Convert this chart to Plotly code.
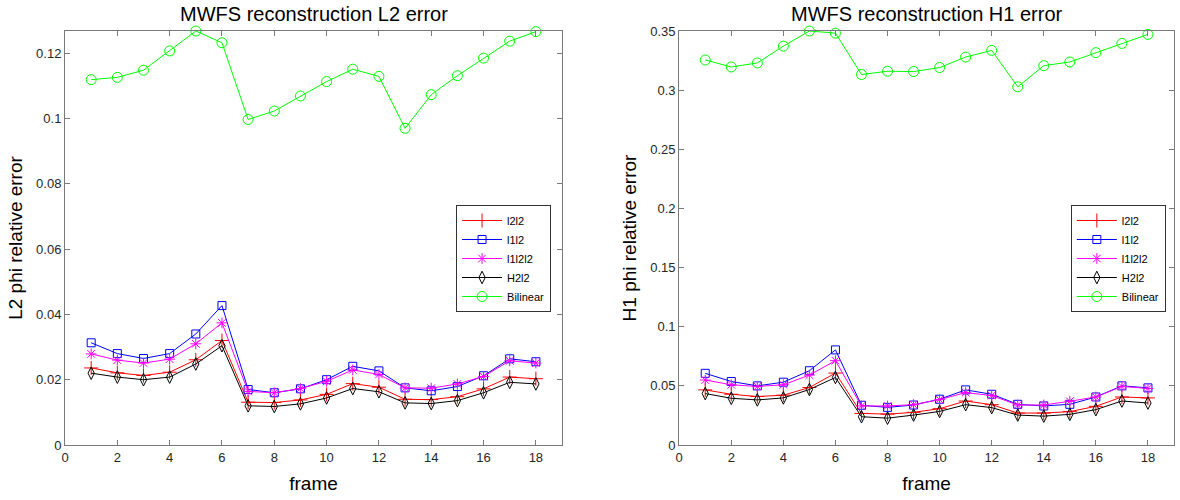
import plotly.graph_objects as go

frames = list(range(1, 19))

# Left panel: L2 relative error
l2_l2l2 = [0.0236, 0.0221, 0.0213, 0.0223, 0.0261, 0.0320, 0.0131, 0.0130, 0.0138,
           0.0155, 0.0188, 0.0177, 0.0140, 0.0139, 0.0148, 0.0172, 0.0208, 0.0203]
l2_l1l2 = [0.0313, 0.0280, 0.0265, 0.0280, 0.0340, 0.0427, 0.0170, 0.0160, 0.0172,
           0.0200, 0.0241, 0.0227, 0.0175, 0.0166, 0.0179, 0.0212, 0.0264, 0.0255]
l2_l1l2l2 = [0.0279, 0.0260, 0.0251, 0.0263, 0.0310, 0.0374, 0.0164, 0.0160, 0.0173,
             0.0195, 0.0230, 0.0216, 0.0175, 0.0174, 0.0187, 0.0210, 0.0258, 0.0251]
l2_h2l2 = [0.0220, 0.0208, 0.0200, 0.0208, 0.0248, 0.0304, 0.0120, 0.0118, 0.0126,
           0.0144, 0.0173, 0.0163, 0.0129, 0.0127, 0.0136, 0.0160, 0.0192, 0.0187]
l2_bilinear = [0.1119, 0.1126, 0.1148, 0.1207, 0.1268, 0.1232, 0.0997, 0.1023, 0.1069,
               0.1113, 0.1151, 0.1129, 0.0970, 0.1073, 0.1131, 0.1185, 0.1237, 0.1266]

# Right panel: H1 relative error
h1_l2l2 = [0.0466, 0.0429, 0.0410, 0.0421, 0.0486, 0.0608, 0.0267, 0.0261, 0.0276,
           0.0307, 0.0372, 0.0341, 0.0270, 0.0270, 0.0282, 0.0327, 0.0406, 0.0398]
h1_l1l2 = [0.0606, 0.0537, 0.0500, 0.0531, 0.0628, 0.0804, 0.0336, 0.0318, 0.0338,
           0.0387, 0.0466, 0.0429, 0.0344, 0.0330, 0.0344, 0.0406, 0.0500, 0.0483]
h1_l1l2l2 = [0.0549, 0.0509, 0.0495, 0.0509, 0.0591, 0.0713, 0.0330, 0.0330, 0.0341,
             0.0384, 0.0443, 0.0418, 0.0338, 0.0338, 0.0370, 0.0406, 0.0495, 0.0478]
h1_h2l2 = [0.0435, 0.0395, 0.0381, 0.0398, 0.0469, 0.0571, 0.0239, 0.0227, 0.0253,
           0.0284, 0.0341, 0.0316, 0.0253, 0.0244, 0.0259, 0.0299, 0.0372, 0.0355]
h1_bilinear = [0.3255, 0.3196, 0.3230, 0.3372, 0.3500, 0.3482, 0.3132, 0.3160, 0.3157,
               0.3191, 0.3280, 0.3336, 0.3028, 0.3207, 0.3238, 0.3317, 0.3395, 0.3471]

series_names = ["l2l2", "l1l2", "l1l2l2", "H2l2", "Bilinear"]
series_colors = ["#FF0000", "#0000FF", "#FF00FF", "#000000", "#00FF00"]
series_symbols = ["cross-thin-open", "square-open", "asterisk-open", "diamond-tall-open", "circle-open"]
series_sizes = [10, 8, 9, 9, 10]

x_ticks = [0, 2, 4, 6, 8, 10, 12, 14, 16, 18]
left_y_ticks = [0, 0.02, 0.04, 0.06, 0.08, 0.1, 0.12]
left_y_labels = ["0", "0.02", "0.04", "0.06", "0.08", "0.1", "0.12"]
right_y_ticks = [0, 0.05, 0.1, 0.15, 0.2, 0.25, 0.3, 0.35]
right_y_labels = ["0", "0.05", "0.1", "0.15", "0.2", "0.25", "0.3", "0.35"]

left_data = [l2_l2l2, l2_l1l2, l2_l1l2l2, l2_h2l2, l2_bilinear]
right_data = [h1_l2l2, h1_l1l2, h1_l1l2l2, h1_h2l2, h1_bilinear]

fig = go.Figure()
for i, name in enumerate(series_names):
    fig.add_trace(go.Scatter(
        x=frames, y=left_data[i], name=name, mode="lines+markers",
        line=dict(color=series_colors[i], width=1),
        marker=dict(symbol=series_symbols[i], size=series_sizes[i],
                    color=series_colors[i], line=dict(width=1, color=series_colors[i])),
        xaxis="x", yaxis="y", legend="legend", cliponaxis=False))
for i, name in enumerate(series_names):
    fig.add_trace(go.Scatter(
        x=frames, y=right_data[i], name=name, mode="lines+markers",
        line=dict(color=series_colors[i], width=1),
        marker=dict(symbol=series_symbols[i], size=series_sizes[i],
                    color=series_colors[i], line=dict(width=1, color=series_colors[i])),
        xaxis="x2", yaxis="y2", legend="legend2", cliponaxis=False))

font_family = "Liberation Sans, Arial, sans-serif"
tick_font = dict(family=font_family, size=13, color="#262626")
title_font = dict(family=font_family, size=19, color="#000000")
axis_common = dict(showline=True, linecolor="#7a7a7a", linewidth=1, mirror="ticks",
                   ticks="inside", ticklen=5, tickcolor="#7a7a7a", showgrid=False,
                   zeroline=False, tickfont=tick_font, automargin=False)

legend_common = dict(bgcolor="white", bordercolor="#333333", borderwidth=1,
                     font=dict(family=font_family, size=11, color="#000000"),
                     xanchor="right", yanchor="top", y=0.59, tracegroupgap=0,
                     itemwidth=40)

fig.update_layout(
    width=1180, height=500,
    margin=dict(l=0, r=0, t=0, b=0, autoexpand=False),
    paper_bgcolor="white", plot_bgcolor="white",
    showlegend=True,
    xaxis=dict(domain=[0.0551, 0.4763], range=[0, 19], tickvals=x_ticks, anchor="y",
               title=dict(text="frame", font=title_font, standoff=13), **axis_common),
    yaxis=dict(domain=[0.11, 0.938], range=[0, 0.1268], tickvals=left_y_ticks,
               ticktext=left_y_labels, anchor="x",
               title=dict(text="L2 phi relative error", font=title_font, standoff=8),
               **axis_common),
    xaxis2=dict(domain=[0.5756, 0.9949], range=[0, 19], tickvals=x_ticks, anchor="y2",
                title=dict(text="frame", font=title_font, standoff=13), **axis_common),
    yaxis2=dict(domain=[0.11, 0.938], range=[0, 0.35], tickvals=right_y_ticks,
                ticktext=right_y_labels, anchor="x2",
                title=dict(text="H1 phi relative error", font=title_font, standoff=8),
                **axis_common),
    legend=dict(x=0.467, **legend_common),
    legend2=dict(x=0.988, **legend_common),
    annotations=[
        dict(text="MWFS reconstruction L2 error", xref="paper", yref="paper",
             x=(0.0551 + 0.4763) / 2, y=0.998, xanchor="center", yanchor="top",
             showarrow=False, font=dict(family=font_family, size=20, color="#000000")),
        dict(text="MWFS reconstruction H1 error", xref="paper", yref="paper",
             x=(0.5756 + 0.9949) / 2, y=0.998, xanchor="center", yanchor="top",
             showarrow=False, font=dict(family=font_family, size=20, color="#000000")),
    ],
)

fig.write_html("out.html", config={"displayModeBar": False},
               post_script="document.body.style.margin='0';document.body.style.overflow='hidden';")
